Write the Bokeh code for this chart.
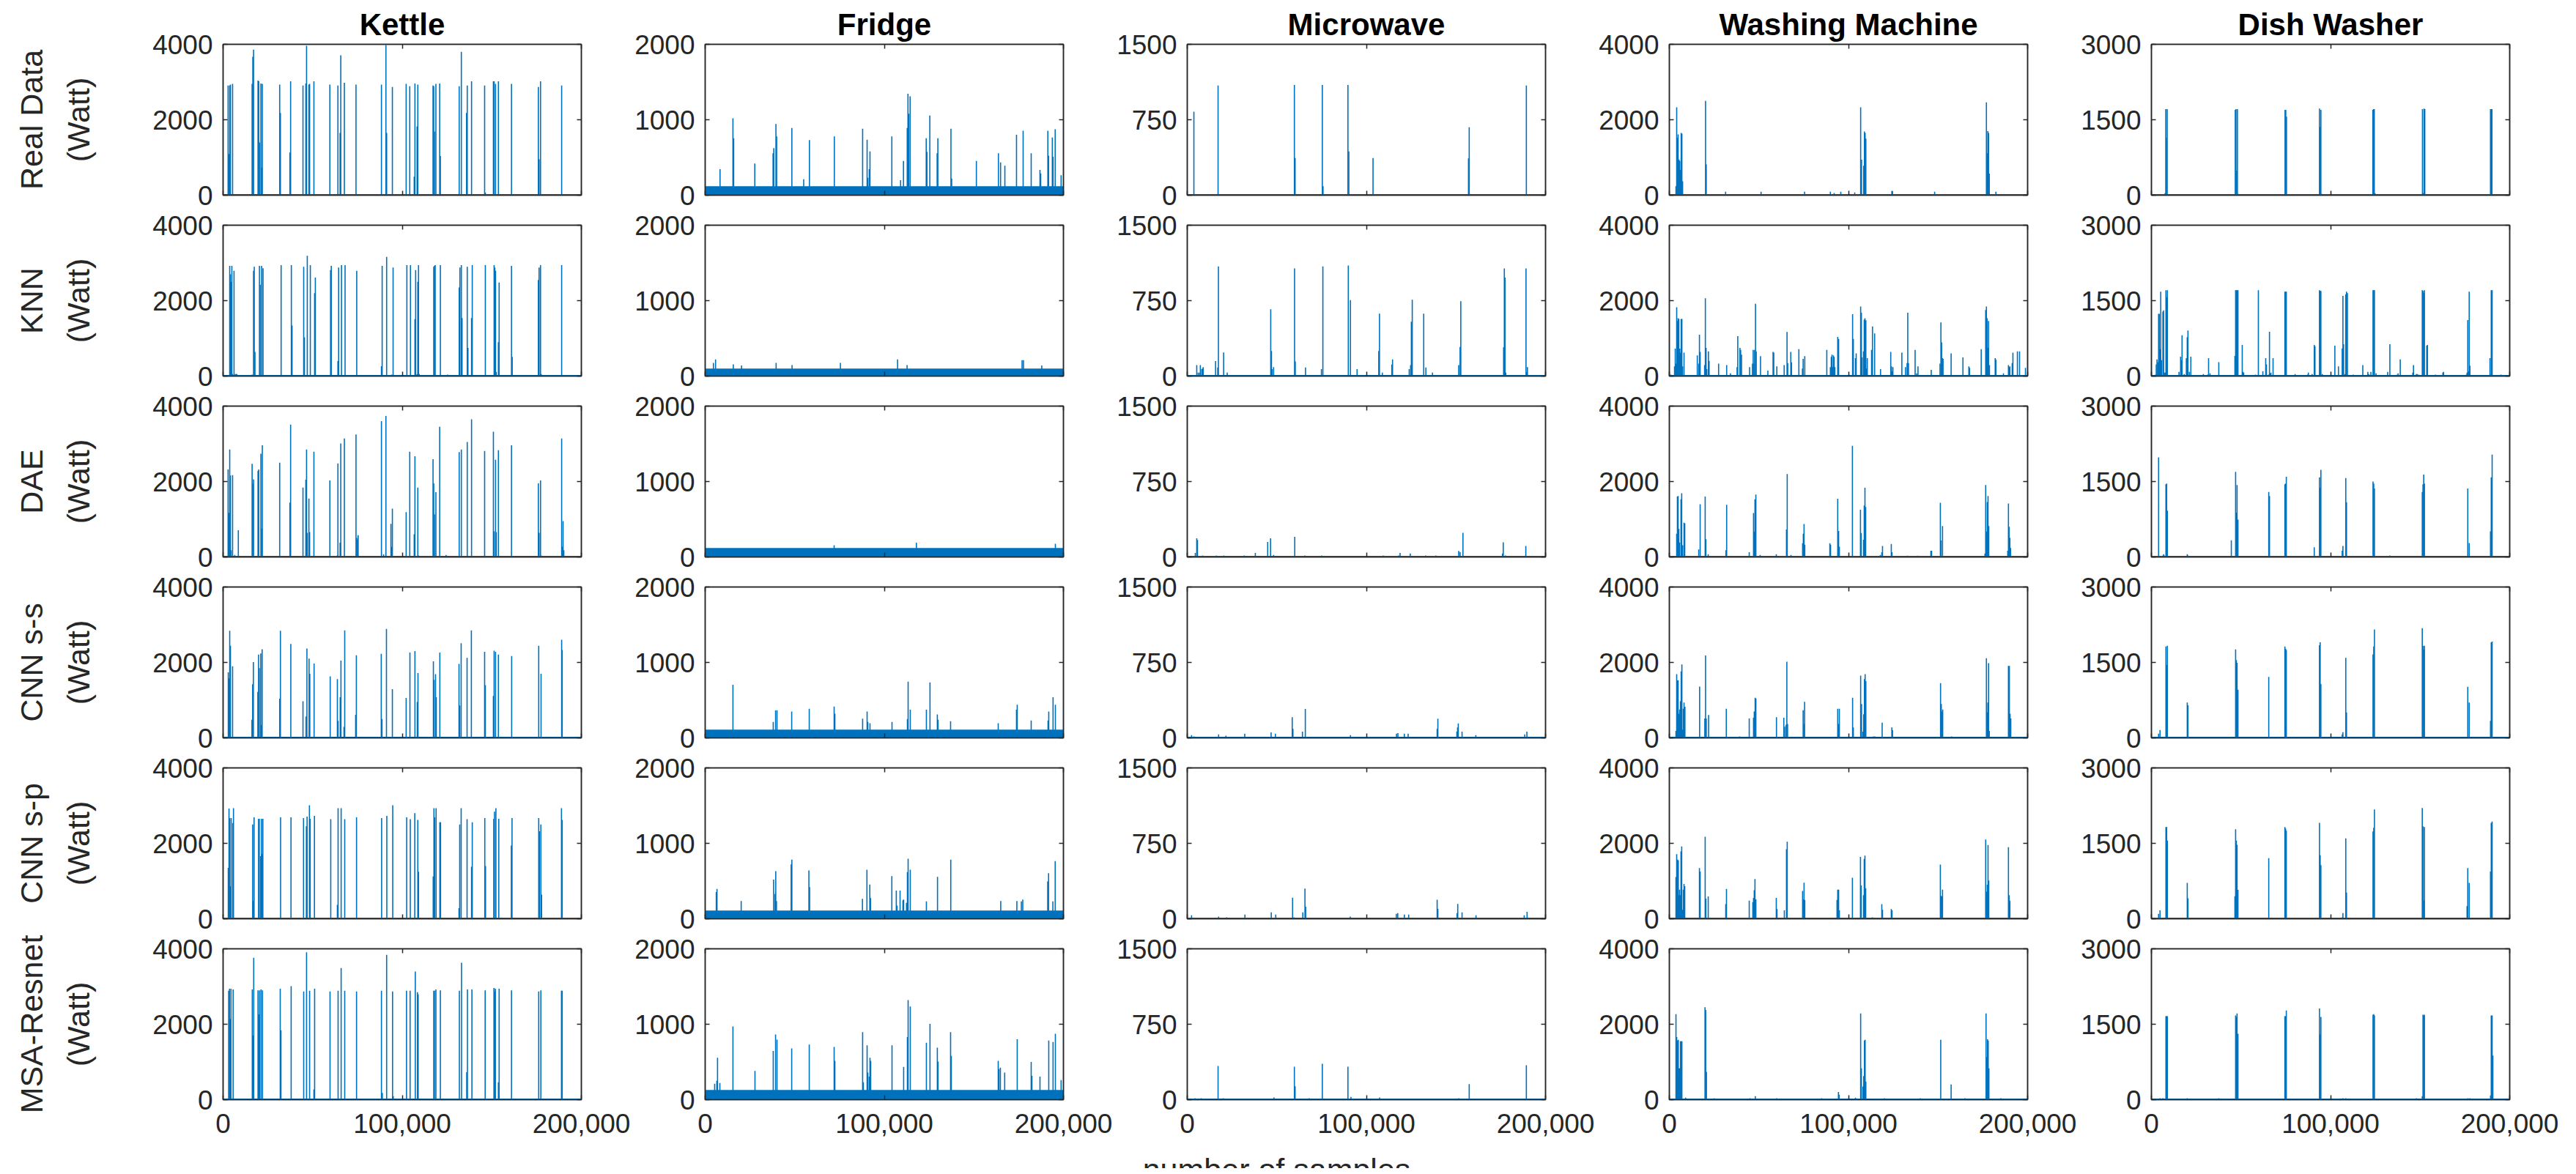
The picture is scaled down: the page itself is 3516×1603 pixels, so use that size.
import math
from bokeh.plotting import figure
from bokeh.layouts import gridplot, row, column
from bokeh.models import Range1d, LinearAxis, FixedTicker, NumeralTickFormatter
from bokeh.embed import file_html
from bokeh.resources import INLINE
from bokeh.core.properties import value

# ---------------- data ----------------
appliances = ["Kettle", "Fridge", "Microwave", "Washing Machine", "Dish Washer"]
methods = ["Real Data", "KNN", "DAE", "CNN s-s", "CNN s-p", "MSA-Resnet"]
y_max = [4000, 2000, 1500, 4000, 3000]
n_samples = 200000
x_ticks = [0, 100000, 200000]
x_label = "number of samples"
# fridge compressor base level (W) per method (dense band at the bottom)
fridge_base = [120, 100, 118, 110, 110, 128]

# spikes: (position in thousands of samples, power in W)
kettle_real = [(2.8,2910),(3.2,1090),(3.7,2910),(4.1,2930),(5.3,2950),(16.2,2950),(16.6,3670),(17.0,3860),(19.5,3040),(19.9,3020),(20.3,1400),(21.1,2960),(21.5,730),(21.9,2950),(31.6,2930),(32.0,2180),(37.3,1130),(37.7,3020),(44.6,2910),(46.2,2960),(46.6,3960),(47.9,2930),(48.3,2950),(50.7,3020),(59.6,2930),(64.1,2910),(65.3,1650),(65.7,3710),(67.7,2980),(74.2,2930),(88.4,2930),(90.9,3980),(91.3,1650),(94.5,2870),(102.2,2950),(104.2,2890),(106.7,490),(107.1,2960),(108.3,1820),(108.7,2930),(117.2,2910),(117.6,2890),(118.0,1690),(118.8,2950),(120.9,2960),(121.3,1040),(131.8,2890),(133.0,3800),(135.9,2180),(136.3,2910),(138.7,3020),(146.0,2910),(146.4,70),(150.9,3020),(151.3,3020),(152.1,2950),(153.7,3020),(161.0,2950),(176.0,2870),(176.4,950),(177.2,3020),(189.0,2910)]
kettle_knn = [(3.7,2920),(4.1,2700),(4.5,2500),(4.9,2920),(5.3,55),(6.1,2790),(6.8,55),(7.3,55),(7.7,55),(16.2,40),(17.0,2790),(17.4,2900),(17.8,640),(20.3,2920),(20.7,2420),(21.5,2920),(22.3,2860),(32.4,2940),(38.1,2940),(38.5,1340),(45.0,2900),(45.4,1030),(47.0,3190),(48.7,2940),(51.1,2200),(51.5,2610),(60.0,2810),(60.4,2920),(64.1,400),(64.5,2880),(66.1,2940),(68.1,2940),(74.6,2790),(88.4,260),(88.8,2920),(91.3,3160),(94.1,40),(94.9,2880),(102.6,2940),(104.6,2940),(107.1,1510),(107.5,2810),(108.3,55),(108.7,2500),(109.1,2940),(109.5,55),(117.6,2900),(118.0,2920),(118.4,2940),(121.3,2940),(125.3,40),(131.8,2350),(132.2,2880),(133.0,2940),(133.4,1540),(136.3,2900),(136.7,750),(138.7,1540),(139.1,2940),(146.4,2940),(151.3,2940),(151.7,2880),(152.1,2790),(152.5,110),(153.7,900),(154.1,2480),(161.0,2920),(161.4,510),(176.0,2550),(176.4,2880),(177.2,2940),(177.6,55),(189.0,2940)]
kettle_dae = [(2.8,2320),(3.2,1170),(3.7,2850),(4.1,2160),(4.5,180),(5.3,2170),(6.5,55),(8.5,710),(16.2,2470),(16.6,1940),(17.0,2060),(19.5,2280),(19.9,2320),(21.1,2740),(21.5,750),(21.9,2960),(31.6,2500),(37.3,1440),(37.7,3510),(44.6,1840),(46.2,2050),(46.6,2850),(47.0,640),(47.9,1550),(48.3,660),(50.7,2790),(59.6,2030),(63.7,40),(64.1,2480),(65.3,380),(65.7,3010),(67.7,3140),(74.2,3250),(74.6,510),(75.0,460),(75.4,580),(88.4,3600),(89.6,70),(90.9,3740),(93.7,880),(94.1,270),(94.5,1280),(102.2,1190),(104.2,2790),(106.7,600),(107.1,2670),(108.7,1840),(109.1,40),(117.2,2590),(117.6,1950),(118.0,1130),(118.8,1720),(120.9,3450),(124.5,55),(131.8,2780),(133.0,2850),(136.3,3050),(138.7,3650),(146.0,2810),(150.9,3320),(151.3,680),(152.1,2580),(152.5,660),(153.7,2830),(161.0,2960),(176.0,1950),(176.4,640),(177.2,2030),(177.6,40),(189.0,3140),(189.4,270),(189.8,950),(190.2,180)]
kettle_cnn_ss = [(2.9,1740),(3.3,1580),(3.7,2840),(4.1,2440),(5.3,1900),(16.1,480),(16.5,1420),(16.9,2010),(19.4,1220),(19.8,2210),(20.2,1850),(21.0,2240),(21.4,340),(21.8,2350),(31.6,1040),(32.0,2840),(37.8,2490),(44.6,970),(46.3,570),(46.8,2370),(48.0,2100),(48.4,1700),(50.8,1970),(59.8,1630),(63.8,1560),(64.2,450),(65.4,1080),(65.8,2050),(67.5,290),(67.9,2850),(74.0,610),(74.4,2190),(88.3,2230),(88.7,500),(91.2,2890),(94.5,1290),(102.2,1060),(104.3,2260),(107.1,2300),(108.4,950),(108.8,1720),(117.4,2030),(117.8,1540),(118.6,1690),(119.0,1080),(121.0,2260),(131.7,1960),(132.1,860),(132.9,2510),(136.2,2120),(138.6,2850),(146.0,2280),(146.4,1400),(150.9,1110),(151.3,2310),(152.1,2280),(153.7,2210),(161.1,2170),(176.2,2440),(177.5,1700),(189.0,2600),(189.3,2330)]
kettle_cnn_sp = [(2.9,1350),(3.3,2920),(3.7,2670),(4.1,860),(4.5,2670),(5.4,2540),(5.8,2930),(16.5,2500),(16.9,470),(17.3,2690),(19.8,2650),(20.2,2650),(21.0,1660),(21.4,2650),(21.8,1720),(22.2,2650),(32.1,2690),(37.9,2690),(44.9,2670),(46.5,2450),(46.9,2710),(48.2,3010),(48.6,2650),(51.0,2730),(60.1,2640),(63.8,370),(64.2,2930),(65.9,2930),(67.9,2640),(74.5,2690),(88.5,2670),(91.4,2730),(94.7,3010),(102.5,2690),(104.5,2640),(107.0,2800),(108.7,2620),(109.1,1250),(117.3,1120),(117.7,2930),(118.1,2690),(118.9,2930),(121.0,2560),(121.4,2560),(131.7,280),(132.1,2500),(132.9,2930),(136.2,2640),(138.7,1380),(139.1,2560),(146.1,2670),(146.5,1400),(151.1,2650),(151.5,2840),(152.3,2930),(153.9,2650),(160.9,1940),(161.3,2670),(176.2,2670),(176.6,2320),(177.4,2500),(177.8,640),(188.9,2930),(189.3,2620)]
kettle_msa = [(3.1,2890),(3.6,2940),(4.0,2140),(4.4,2940),(5.6,2920),(16.3,2920),(16.7,1700),(17.1,3760),(19.5,2900),(20.0,2260),(20.4,2900),(21.2,2920),(22.0,2900),(31.9,2940),(32.3,1840),(38.0,3010),(45.0,2870),(46.6,3910),(48.3,2890),(50.7,270),(51.1,2940),(59.7,2870),(64.2,2890),(65.9,3490),(67.9,2890),(74.5,2870),(88.4,2890),(88.9,180),(91.3,3840),(94.6,2870),(95.0,90),(102.4,2890),(104.4,2890),(107.3,3400),(108.5,2850),(108.9,2790),(117.6,2890),(118.0,2890),(118.8,2920),(121.3,2900),(131.9,2890),(133.1,3630),(136.0,730),(136.4,2920),(138.9,2920),(146.3,2900),(151.2,2960),(151.6,2870),(152.0,2940),(153.7,460),(154.1,2940),(161.0,2900),(176.2,2870),(177.4,2900),(188.9,2890),(189.3,2890)]

fridge_real = [(8.3,345),(15.5,1020),(15.9,755),(27.7,420),(37.9,555),(38.3,625),(39.5,945),(39.9,780),(48.4,890),(55.0,210),(58.2,730),(72.1,780),(87.9,880),(90.4,735),(90.8,230),(91.6,345),(92.0,580),(104.2,780),(109.1,200),(110.7,455),(112.8,890),(113.2,1345),(113.6,1080),(114.4,1310),(123.4,755),(123.8,575),(125.4,1055),(129.5,555),(129.9,755),(137.2,880),(137.6,220),(151.4,455),(163.7,555),(164.9,435),(167.3,390),(173.8,800),(177.5,855),(182.0,555),(186.9,335),(187.3,290),(191.3,855),(191.7,525),(193.8,765),(194.2,510),(195.4,875),(198.7,265)]
fridge_knn = [(4.6,175),(5.8,220),(15.7,155),(20.3,140),(39.6,175),(48.5,145),(75.5,175),(107.4,220),(112.7,145),(176.9,210),(177.7,210),(187.9,140)]
fridge_dae = [(72.0,155),(117.9,190),(195.5,175)]
fridge_cnn_ss = [(15.5,705),(38.0,210),(39.3,365),(40.1,365),(48.3,350),(58.1,385),(72.0,415),(72.4,320),(87.9,255),(90.4,350),(90.8,210),(92.0,195),(104.3,210),(112.9,250),(113.3,745),(114.5,375),(123.5,375),(125.5,735),(129.6,310),(130.0,240),(137.0,220),(163.6,195),(173.8,375),(174.2,440),(182.0,230),(191.4,230),(191.8,350),(194.2,540),(195.5,440)]
fridge_cnn_sp = [(6.2,355),(6.6,395),(20.1,235),(38.2,520),(39.0,330),(39.4,630),(39.8,235),(48.0,720),(48.4,785),(57.9,640),(58.3,420),(87.8,265),(90.3,650),(91.9,455),(92.3,275),(104.2,565),(106.7,375),(107.1,175),(108.8,375),(110.4,245),(110.8,255),(112.4,210),(112.9,620),(113.3,795),(114.5,650),(123.5,230),(129.7,555),(137.1,785),(165.0,235),(174.0,235),(176.5,230),(177.3,255),(191.2,495),(191.7,605),(194.1,230),(195.4,765)]
fridge_msa = [(5.3,210),(6.5,250),(6.9,555),(8.2,220),(15.5,970),(27.8,380),(38.0,645),(39.3,865),(40.1,795),(48.3,680),(58.1,730),(72.0,700),(72.4,515),(87.9,895),(88.3,230),(90.4,720),(90.8,360),(91.6,305),(92.0,555),(92.4,515),(104.3,720),(110.8,435),(112.9,830),(113.3,1320),(114.5,1235),(123.5,755),(125.5,1005),(129.6,690),(130.0,505),(137.0,895),(137.4,580),(163.6,515),(164.0,405),(164.8,425),(167.2,360),(174.2,800),(182.0,500),(182.4,315),(186.9,305),(191.8,785),(194.2,765),(195.5,875),(198.7,260)]

micro_real = [(3.7,830),(17.2,1090),(59.8,1095),(60.2,370),(75.4,1095),(75.8,90),(89.7,1095),(90.2,435),(103.7,370),(157.0,365),(157.4,675),(189.3,1090)]
micro_knn = [(5.3,110),(6.1,35),(6.9,35),(7.3,110),(8.1,70),(8.5,75),(8.9,90),(15.8,150),(17.0,85),(17.4,1090),(20.3,235),(22.3,35),(46.6,665),(47.0,250),(47.4,70),(48.2,90),(59.9,1070),(60.3,145),(66.0,85),(74.9,70),(75.7,1090),(89.9,1100),(91.1,755),(94.8,70),(106.9,250),(107.3,620),(108.9,35),(114.2,115),(114.6,165),(123.9,70),(124.7,110),(125.1,540),(125.6,760),(132.0,620),(133.2,85),(136.9,35),(151.5,110),(152.3,290),(152.7,745),(176.6,285),(177.0,1070),(177.4,980),(177.8,35),(189.1,1070),(189.5,40),(189.9,90)]
micro_dae = [(4.5,40),(5.3,185),(5.7,170),(8.6,15),(16.3,15),(20.4,15),(31.8,15),(38.0,40),(44.9,150),(46.5,185),(48.2,20),(60.0,200),(65.7,15),(75.1,15),(109.4,15),(118.0,15),(118.8,40),(124.5,35),(133.1,15),(138.8,15),(151.5,60),(152.3,50),(153.9,240),(176.0,35),(176.4,145),(177.6,15),(189.0,110)]
micro_cnn_ss = [(2.4,27),(3.7,14),(17.5,34),(21.6,21),(32.1,41),(46.8,55),(49.2,41),(58.6,206),(59.0,89),(64.3,62),(65.9,288),(91.1,27),(116.8,41),(117.6,48),(121.2,41),(123.3,41),(139.5,89),(139.9,192),(150.5,62),(150.9,103),(151.3,144),(153.4,62),(161.1,27),(188.4,34),(189.6,62)]
micro_cnn_sp = [(2.4,35),(17.5,21),(22.0,14),(32.2,42),(46.9,63),(49.4,42),(58.8,210),(59.6,14),(64.5,63),(65.7,300),(66.1,120),(91.0,21),(116.7,49),(117.5,56),(121.2,42),(123.6,42),(139.5,189),(139.9,98),(150.6,56),(151.0,147),(153.4,63),(161.2,35),(188.1,35),(189.7,70)]
micro_msa = [(4.4,14),(7.8,14),(17.2,335),(20.1,14),(48.4,21),(59.8,328),(60.2,133),(68.0,14),(75.4,356),(89.7,328),(91.4,28),(107.4,21),(151.6,14),(157.4,154),(189.3,342)]

wash_real = [(3.7,240),(4.1,2330),(4.5,1520),(4.9,1610),(5.4,940),(5.8,910),(6.2,670),(6.6,1650),(7.0,1630),(7.4,370),(20.2,2500),(20.6,815),(31.4,93),(51.2,93),(75.5,93),(89.9,93),(92.0,56),(95.7,93),(103.5,74),(106.8,2330),(107.3,940),(108.5,780),(108.9,1690),(109.3,1650),(109.7,1500),(124.2,110),(124.6,110),(148.1,93),(177.0,2460),(177.4,1110),(177.8,1700),(178.2,1650),(178.6,575),(182.3,93)]
wash_knn = [(0.8,37),(2.9,256),(3.3,730),(3.7,329),(4.1,1826),(4.5,1461),(4.9,1534),(5.3,1516),(5.8,730),(6.2,621),(6.6,1516),(7.0,1516),(7.4,256),(8.2,621),(15.6,548),(16.4,329),(16.8,1096),(17.2,639),(19.7,292),(20.1,2063),(20.5,749),(20.9,183),(21.8,657),(22.2,402),(27.5,329),(32.0,292),(34.1,73),(37.8,237),(38.2,1059),(39.4,749),(39.8,694),(40.3,566),(44.8,237),(46.4,329),(46.8,694),(47.2,329),(47.6,694),(48.1,1917),(48.5,657),(50.9,530),(55.0,146),(57.9,639),(58.3,621),(60.0,256),(64.1,292),(65.7,1169),(66.1,347),(67.8,639),(68.2,365),(72.3,712),(74.3,201),(74.7,457),(75.6,530),(87.9,694),(89.9,237),(90.4,511),(90.8,566),(91.2,237),(91.6,548),(92.0,511),(92.4,237),(94.0,1041),(94.5,986),(102.3,1643),(102.7,986),(103.9,475),(104.3,603),(106.8,1844),(107.2,1680),(107.6,493),(108.4,657),(108.8,1497),(109.2,1534),(109.7,1479),(110.1,201),(110.5,475),(112.9,694),(113.4,1315),(114.6,1132),(117.9,183),(123.6,639),(124.0,256),(124.4,128),(124.8,237),(129.8,621),(131.8,237),(132.7,347),(133.1,1680),(133.5,347),(137.2,694),(138.0,73),(138.8,256),(146.2,164),(151.1,329),(151.6,1424),(152.0,895),(152.4,475),(152.8,457),(157.3,603),(163.9,493),(167.2,256),(167.6,219),(174.1,712),(176.6,1753),(177.0,1844),(177.4,1534),(177.8,749),(178.2,1461),(178.7,292),(181.9,475),(182.3,438),(186.5,73),(189.3,292),(189.7,237),(190.1,256),(191.4,347),(191.8,621),(194.3,657),(195.5,657),(198.8,219)]
wash_dae = [(4.1,618),(4.5,1600),(4.9,1618),(5.3,745),(5.7,382),(6.5,1527),(6.9,1691),(7.4,309),(8.2,909),(8.6,891),(16.4,200),(17.2,1400),(20.0,1600),(20.4,473),(21.7,73),(31.6,182),(32.0,1382),(44.6,127),(47.0,1164),(47.4,673),(47.8,1527),(48.3,1654),(50.7,55),(59.7,73),(65.4,727),(65.8,2200),(67.9,55),(74.4,364),(74.8,618),(75.2,873),(75.6,327),(89.6,364),(90.0,327),(94.0,1545),(94.5,691),(94.9,273),(102.2,2945),(106.7,1254),(107.1,636),(108.4,455),(108.8,1364),(109.2,1836),(109.6,1327),(117.8,55),(118.6,127),(119.0,291),(123.9,345),(124.3,127),(132.9,36),(138.6,36),(146.0,164),(146.4,164),(151.3,1436),(151.7,436),(152.5,818),(176.2,91),(176.6,1909),(177.1,673),(177.5,1454),(177.9,1618),(178.3,818),(188.9,164),(189.3,1418),(189.7,800),(190.1,509),(190.5,236)]
wash_cnn_ss = [(3.7,183),(4.1,1688),(4.5,1523),(4.9,1523),(5.4,642),(5.8,752),(6.2,973),(6.6,1762),(7.0,1945),(7.4,220),(7.8,771),(8.2,936),(8.7,826),(16.9,1358),(19.8,514),(20.2,2184),(20.6,514),(21.9,606),(31.8,771),(39.2,37),(44.6,514),(47.0,532),(47.4,697),(47.9,1064),(48.3,1046),(59.8,550),(63.9,532),(64.4,294),(65.2,349),(65.6,2018),(66.0,367),(74.7,734),(75.1,367),(75.5,954),(94.0,771),(94.5,367),(94.9,771),(102.3,1064),(102.7,275),(106.8,1652),(107.3,899),(108.1,165),(108.5,624),(108.9,1560),(109.3,1688),(109.7,1505),(113.9,37),(114.7,37),(118.8,404),(124.2,275),(124.6,202),(151.4,1450),(151.8,899),(152.2,697),(152.6,752),(157.6,37),(177.0,2110),(177.4,679),(177.8,936),(178.2,1982),(178.6,183),(189.3,1908),(189.8,1908),(190.2,642),(190.6,514)]
wash_cnn_sp = [(3.7,1106),(4.1,1714),(4.6,1567),(5.0,1548),(5.3,627),(5.7,774),(6.1,627),(6.5,1788),(6.9,1917),(7.4,240),(7.8,774),(8.2,922),(8.6,866),(16.8,1345),(17.2,1253),(20.0,2175),(20.4,534),(21.7,590),(31.5,387),(31.9,792),(44.6,479),(46.6,442),(47.0,553),(47.4,756),(47.8,1051),(48.3,516),(59.7,553),(60.1,258),(64.2,221),(65.4,1843),(65.8,2046),(74.4,737),(74.8,516),(75.2,958),(75.6,498),(93.6,498),(94.0,774),(94.5,774),(94.9,221),(102.2,1087),(106.7,1640),(107.1,885),(108.4,627),(108.8,1585),(109.2,1677),(109.6,811),(113.3,37),(118.6,387),(119.0,240),(123.9,258),(124.3,221),(151.3,1438),(151.7,608),(152.1,590),(152.5,774),(176.6,2101),(177.0,719),(177.5,903),(177.9,1954),(178.3,1014),(189.3,1898),(189.7,627),(190.1,479)]
wash_msa = [(3.7,2267),(4.1,1659),(4.6,1567),(5.0,1585),(5.4,829),(5.8,829),(6.2,1548),(6.6,1548),(7.0,1548),(9.1,55),(19.9,2451),(20.3,2378),(20.7,737),(25.0,37),(45.0,37),(48.0,92),(60.0,37),(85.0,37),(94.4,203),(94.8,129),(103.9,55),(106.8,2285),(107.2,829),(108.1,350),(108.5,627),(108.9,1567),(109.3,1585),(109.7,479),(120.0,37),(140.0,37),(151.5,1585),(157.3,405),(165.0,37),(176.8,2285),(177.2,1124),(177.6,1603),(178.0,1567),(178.4,829),(185.0,37)]

dish_real = [(7.6,41),(8.0,1710),(8.4,1140),(8.8,1710),(31.3,14),(46.8,1696),(47.2,1710),(47.6,489),(48.0,1710),(48.5,27),(51.3,14),(74.6,1696),(75.0,1696),(75.4,1561),(89.7,14),(91.7,14),(93.4,14),(93.8,1723),(94.2,1357),(94.6,1696),(95.0,27),(103.2,14),(108.5,14),(123.6,1696),(124.0,1710),(124.4,1710),(124.8,41),(151.3,1710),(151.8,41),(152.2,1723),(152.6,1710),(176.2,14),(182.0,14),(189.3,1710),(189.7,1710),(190.1,1710)]
dish_knn = [(2.3,28),(2.7,234),(3.1,330),(3.6,275),(4.0,1238),(4.4,1238),(4.8,537),(5.2,1679),(5.6,316),(6.4,1280),(6.8,1307),(7.2,69),(7.7,69),(8.1,1706),(8.5,1569),(8.9,1706),(15.4,83),(16.3,385),(16.7,316),(17.1,812),(17.9,14),(18.3,41),(19.5,358),(20.0,771),(20.4,908),(21.2,83),(22.0,385),(29.0,41),(31.4,28),(31.9,358),(32.7,55),(37.6,275),(46.6,399),(47.0,1706),(47.4,1706),(47.8,1706),(48.3,1706),(50.7,619),(51.1,83),(51.5,69),(58.1,28),(59.7,1706),(62.2,96),(63.8,358),(64.2,234),(65.5,28),(65.9,881),(66.3,55),(66.7,69),(67.9,358),(74.5,1679),(74.9,1679),(75.3,1679),(80.2,41),(87.2,28),(87.6,69),(89.7,41),(90.9,619),(91.3,592),(93.8,1706),(94.2,1692),(94.6,1692),(95.4,41),(102.4,605),(103.2,14),(104.4,193),(106.5,550),(106.9,1596),(107.3,633),(108.1,41),(108.5,1624),(108.9,1679),(109.4,1651),(112.6,28),(118.0,220),(120.8,83),(121.3,41),(122.5,83),(123.7,1706),(124.1,1706),(124.5,1706),(125.4,55),(131.9,83),(133.1,633),(137.2,28),(137.7,55),(138.9,330),(145.9,69),(146.3,220),(147.9,41),(148.3,41),(149.1,28),(151.2,1706),(151.6,1692),(152.0,1651),(152.4,1706),(153.7,605),(154.1,619),(158.6,28),(162.7,69),(163.1,83),(175.8,28),(176.2,69),(176.6,1115),(177.0,96),(177.4,1679),(177.8,206),(189.0,358),(189.3,28),(189.7,1706),(190.2,1706),(195.1,28)]
dish_dae = [(4.0,1981),(6.4,28),(6.8,55),(7.2,28),(8.1,1445),(8.5,1459),(8.9,922),(20.0,55),(20.4,28),(44.6,330),(47.0,1692),(47.4,881),(47.8,1431),(48.3,743),(65.5,1293),(65.9,1211),(74.5,1445),(74.9,1459),(75.3,1596),(90.9,193),(93.8,1582),(94.2,1376),(94.6,1734),(106.5,124),(106.9,220),(108.5,1569),(108.9,1087),(123.7,1500),(124.1,1459),(124.5,1362),(133.1,28),(151.2,1293),(151.6,1445),(152.0,1637),(152.4,1459),(176.6,1362),(177.4,275),(189.3,509),(189.7,1582),(190.2,2036)]
dish_cnn_ss = [(4.0,84),(4.8,155),(8.1,1816),(8.5,1450),(8.9,1830),(20.0,704),(20.4,648),(47.0,1760),(47.4,1549),(47.8,1492),(48.3,957),(65.5,1211),(74.5,1816),(74.9,1774),(75.3,1746),(93.8,1844),(94.2,1901),(94.6,1070),(106.5,70),(106.9,113),(108.5,1591),(108.9,507),(123.7,1661),(124.1,1816),(124.5,2154),(151.2,2182),(151.6,1830),(152.0,1760),(152.4,1830),(176.6,1014),(177.4,704),(189.3,338),(189.7,1901),(190.2,1915)]
dish_cnn_sp = [(4.0,98),(4.8,168),(8.1,1823),(8.5,1823),(8.9,1556),(20.0,715),(20.4,407),(46.6,449),(47.0,1781),(47.4,1556),(47.8,1472),(48.3,575),(65.5,1206),(74.5,1823),(74.9,1795),(75.3,1753),(93.8,1907),(94.2,1262),(94.6,1066),(106.5,28),(106.9,112),(108.5,1598),(108.9,519),(123.7,1738),(124.1,1809),(124.5,2173),(151.2,2201),(151.6,1837),(152.0,365),(152.4,1823),(176.2,252),(176.6,1009),(177.4,715),(189.3,939),(189.7,1907),(190.2,1935)]
dish_msa = [(4.8,28),(6.4,28),(8.1,1660),(8.5,1660),(8.9,1660),(20.0,28),(37.6,28),(47.0,1674),(47.4,1646),(47.8,1716),(48.3,1311),(74.5,1660),(74.9,1660),(75.3,1772),(93.8,1814),(94.2,1297),(94.6,1646),(106.9,28),(108.5,28),(123.7,1688),(124.1,1702),(124.5,1674),(147.9,28),(151.2,70),(151.6,1688),(152.0,1674),(152.4,1688),(176.6,28),(177.8,28),(189.3,84),(189.7,1674),(190.2,1674),(190.6,879)]

panels = [
    [kettle_real, fridge_real, micro_real, wash_real, dish_real],
    [kettle_knn, fridge_knn, micro_knn, wash_knn, dish_knn],
    [kettle_dae, fridge_dae, micro_dae, wash_dae, dish_dae],
    [kettle_cnn_ss, fridge_cnn_ss, micro_cnn_ss, wash_cnn_ss, dish_cnn_ss],
    [kettle_cnn_sp, fridge_cnn_sp, micro_cnn_sp, wash_cnn_sp, dish_cnn_sp],
    [kettle_msa, fridge_msa, micro_msa, wash_msa, dish_msa],
]

# ---------------- style / layout ----------------
BLUE = "#0072BD"
AX = "#262626"
FONT = "Liberation Sans"
FW, FH = 489, 206
B_LEFT, B_RIGHT = 97, 70
CELL_W = B_LEFT + FW + B_RIGHT
LABEL_W = 205
TOP_FIRST, TOP_OTHER, BOT_OTHER, BOT_LAST = 60, 21, 20, 66
TOTAL_H = 1595


def style_axis(ax, show_labels):
    ax.axis_line_color = AX
    ax.axis_line_width = 1.5
    ax.major_tick_line_color = AX
    ax.major_tick_line_width = 1.5
    ax.major_tick_in = 6
    ax.major_tick_out = 0
    ax.minor_tick_line_color = None
    if show_labels:
        ax.major_label_text_font = FONT
        ax.major_label_text_font_size = "37px"
        ax.major_label_text_color = AX
    else:
        ax.major_label_text_color = None
        ax.major_label_text_font_size = "1px"
        ax.major_label_standoff = 0


rows = []
row_heights = []
for r in range(len(methods)):
    top = TOP_FIRST if r == 0 else TOP_OTHER
    bot = BOT_LAST if r == len(methods) - 1 else BOT_OTHER
    row_heights.append(top + FH + bot)
    row_figs = []
    for c in range(len(appliances)):
        ym = y_max[c]
        p = figure(frame_width=FW, frame_height=FH,
                   x_range=Range1d(0, n_samples), y_range=Range1d(0, ym),
                   min_border_left=B_LEFT, min_border_right=B_RIGHT,
                   min_border_top=top, min_border_bottom=bot,
                   toolbar_location=None, output_backend="svg")
        p.grid.visible = False
        p.outline_line_color = AX
        p.outline_line_width = 1.5
        if r == 0:
            p.title.text = appliances[c]
            p.title.align = "center"
            p.title.text_font = FONT
            p.title.text_font_size = "42px"
            p.title.text_font_style = "bold"
            p.title.text_color = "black"
            p.title.standoff = 8
        yt = [0, ym / 2, ym]
        p.xaxis.ticker = FixedTicker(ticks=x_ticks)
        p.yaxis.ticker = FixedTicker(ticks=yt)
        p.xaxis.formatter = NumeralTickFormatter(format="0,0")
        p.yaxis.formatter = NumeralTickFormatter(format="0")
        style_axis(p.yaxis[0], True)
        p.yaxis.major_label_standoff = 14
        last = r == len(methods) - 1
        style_axis(p.xaxis[0], last)
        if last:
            p.xaxis.major_label_standoff = 19
        ax_r = LinearAxis(ticker=FixedTicker(ticks=yt))
        style_axis(ax_r, False)
        p.add_layout(ax_r, "right")
        ax_t = LinearAxis(ticker=FixedTicker(ticks=x_ticks))
        style_axis(ax_t, False)
        p.add_layout(ax_t, "above")

        data = panels[r][c]
        xs = [d[0] * 1000 for d in data]
        ws = [d[1] for d in data]
        if c == 1:
            p.quad(left=[0], right=[n_samples], bottom=[0], top=[fridge_base[r]],
                   fill_color=BLUE, line_color=None)
        p.segment(x0=xs, y0=[0] * len(xs), x1=xs, y1=ws, line_color=BLUE, line_width=1.6)
        p.segment(x0=[0], y0=[0], x1=[n_samples], y1=[0], line_color=BLUE, line_width=3)
        row_figs.append(p)
    rows.append(row_figs)

grid = gridplot(rows, toolbar_location=None)

# row labels: one tall canvas so long labels may overflow their row
GRID_H = sum(row_heights)
lab = figure(width=LABEL_W, height=GRID_H, x_range=Range1d(0, LABEL_W), y_range=Range1d(0, GRID_H),
             min_border=0, toolbar_location=None, output_backend="svg")
lab.axis.visible = False
lab.grid.visible = False
lab.outline_line_color = None
lx, ly, lt = [], [], []
y_top = 0
for r in range(len(methods)):
    top = TOP_FIRST if r == 0 else TOP_OTHER
    yc = GRID_H - (y_top + top + FH / 2)
    lx += [42, 106]
    ly += [yc, yc]
    lt += [methods[r], "(Watt)"]
    y_top += row_heights[r]
lab.text(x=lx, y=ly, text=lt, angle=math.pi / 2, text_align="center", text_baseline="middle",
         text_font=value(FONT), text_font_size="43px", text_color=AX)

# common x label strip (cut by the page bottom, as in the original)
STRIP_W = LABEL_W + 5 * CELL_W
STRIP_H = TOTAL_H - GRID_H
strip = figure(width=STRIP_W, height=STRIP_H, x_range=Range1d(0, STRIP_W), y_range=Range1d(0, STRIP_H),
               min_border=0, toolbar_location=None, output_backend="svg")
strip.axis.visible = False
strip.grid.visible = False
strip.outline_line_color = None
strip.text(x=[1742], y=[STRIP_H - 5], text=[x_label], text_align="center", text_baseline="top",
           text_font=value(FONT), text_font_size="43px", text_color=AX)

layout = column(row(lab, grid), strip)
open("out.html", "w").write(file_html(layout, INLINE))
